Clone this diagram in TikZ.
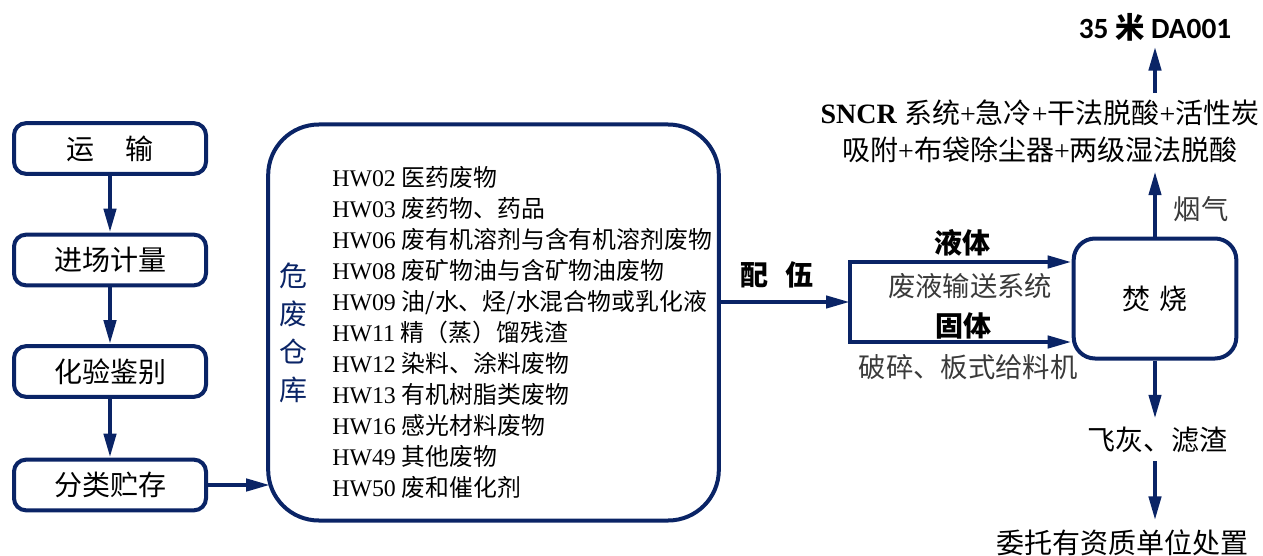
\documentclass[tikz,border=0pt]{standalone}
\usepackage{fontspec}
\setmainfont{Liberation Serif}
\newfontfamily\cjk{Noto Sans CJK SC}
\newfontfamily\calf{Carlito}
\usetikzlibrary{arrows.meta}
\definecolor{navy}{HTML}{0A2466}
\definecolor{txtgray}{HTML}{3A3A3A}
\newcommand{\hwline}[2]{HW#1 {\cjk #2}}
\begin{document}
\begin{tikzpicture}[x=0.75pt,y=-0.75pt,
  line/.style={draw=navy,line width=3.2pt},
  arr/.style={line,-{Triangle[length=18pt,width=9pt]}},
  stepbox/.style={draw=navy,line width=3pt,rounded corners=9pt,minimum width=144pt,minimum height=38pt,inner sep=0pt,font=\cjk\fontsize{21}{25}\selectfont},
  lbl/.style={inner sep=0pt,font=\cjk\fontsize{21}{25}\selectfont},
  blbl/.style={inner sep=0pt,font=\cjk\bfseries\fontsize{21}{25}\selectfont},
  glbl/.style={inner sep=0pt,text=txtgray,font=\cjk\fontsize{20.5}{25}\selectfont}]
\useasboundingbox (0,0) rectangle (1263,556);
% left column
\node[stepbox] (b1) at (110,148.5) {运\hspace{1.1em}输};
\node[stepbox] (b2) at (110,260) {进场计量};
\node[stepbox] (b3) at (110,371.5) {化验鉴别};
\node[stepbox] (b4) at (110,485) {分类贮存};
\draw[arr] (b1.south) -- (b2.north);
\draw[arr] (b2.south) -- (b3.north);
\draw[arr] (b3.south) -- (b4.north);
% store
\node[draw=navy,line width=3pt,rounded corners=38pt,minimum width=338pt,minimum height=297pt] (store) at (493.5,322.5) {};
\node[inner sep=0pt,text=navy,align=center,font=\cjk\fontsize{21}{28.5}\selectfont] (storelbl) at (293,333) {危\\废\\仓\\库};
\node[anchor=west,inner sep=0pt,align=left,font=\fontsize{17.9}{23.3}\selectfont] (hwlist) at (332,332.5) {%
\hwline{02}{医药废物}\\
\hwline{03}{废药物、药品}\\
\hwline{06}{废有机溶剂与含有机溶剂废物}\\
\hwline{08}{废矿物油与含矿物油废物}\\
\hwline{09}{油/水、烃/水混合物或乳化液}\\
\hwline{11}{精（蒸）馏残渣}\\
\hwline{12}{染料、涂料废物}\\
\hwline{13}{有机树脂类废物}\\
\hwline{16}{感光材料废物}\\
\hwline{49}{其他废物}\\
\hwline{50}{废和催化剂}};
\draw[arr] (b4.east) -- ([xshift=3pt]b4.east -| store.west);
% incinerator
\node[draw=navy,line width=3pt,rounded corners=16pt,minimum width=122pt,minimum height=90pt,inner sep=0pt,font=\cjk\fontsize{21}{25}\selectfont] (burn) at (1155,298.5) {焚\hspace{0.3em}烧};
\coordinate (split) at (850,302);
\coordinate (sTop) at (850,262);
\coordinate (sBot) at (850,342);
\draw[arr] (store.east |- split) -- (split);
\draw[line,line cap=rect] (sTop) -- (sBot);
\draw[arr] (sTop) -- (sTop -| burn.west);
\draw[arr] (sBot) -- (sBot -| burn.west);
\node[blbl] (mix) at (777,275) {配\hspace{0.6em}伍};
\node[blbl] (liq) at (962,243) {液体};
\node[glbl] (liqsys) at (970,286) {废液输送系统};
\node[blbl] (sol) at (963,326) {固体};
\node[glbl] (solsys) at (968,367) {破碎、板式给料机};
% flue gas
\node[glbl] (gas) at (1201,209) {烟气};
\node[inner sep=0pt,align=center,font=\fontsize{21}{27.75}\selectfont] (sncr) at (1040,131.5) {\textbf{SNCR} {\cjk 系统}+{\cjk 急冷}+{\cjk 干法脱酸}+{\cjk 活性炭}\\{\cjk 吸附}+{\cjk 布袋除尘器}+{\cjk 两级湿法脱酸}};
\node[inner sep=0pt,font=\calf\bfseries\fontsize{22}{26}\selectfont] (out) at (1155,27) {35 {\cjk 米} DA001};
\draw[arr,shorten >=6pt] (burn.north) -- (burn.north |- sncr.south);
\draw[arr,shorten <=5pt,shorten >=4pt] (burn.north |- sncr.north) -- (burn.north |- out.south);
% residue
\node[lbl] (ash) at (1157,440) {飞灰、滤渣};
\node[lbl] (disp) at (1122,543) {委托有资质单位处置};
\draw[arr,shorten >=6pt] (burn.south) -- (burn.south |- ash.north);
\draw[arr,shorten <=6pt,shorten >=7pt] (burn.south |- ash.south) -- (burn.south |- disp.north);
\end{tikzpicture}
\end{document}
